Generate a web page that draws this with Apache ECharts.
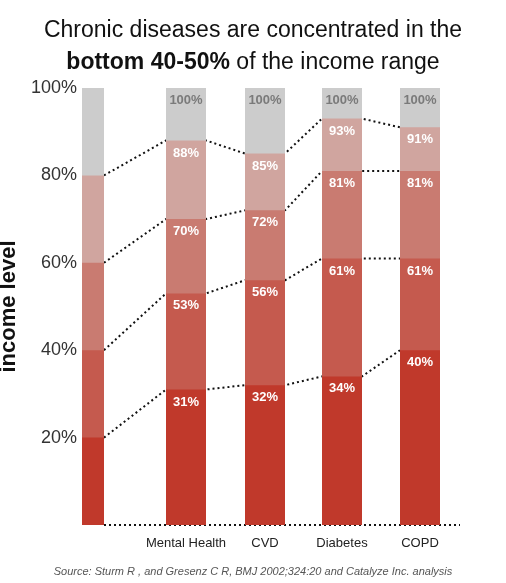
<!DOCTYPE html>
<html>
<head>
<meta charset="utf-8">
<script src="https://cdn.jsdelivr.net/npm/echarts@6/dist/echarts.min.js"></script>
<style>html,body{margin:0;padding:0;background:#fff}#main{width:506px;height:583px}</style>
</head>
<body>
<div id="main"></div>
<script>
// categories and their x positions on the (hidden) value x axis
var categories = ['Mental Health', 'CVD', 'Diabetes', 'COPD'];
var catX = [106, 185, 262, 340];
var refX = 13;
// cumulative income levels per disease
var level1 = [31, 32, 34, 40];
var level2 = [53, 56, 61, 61];
var level3 = [70, 72, 81, 81];
var level4 = [88, 85, 93, 91];
var level5 = [100, 100, 100, 100];
// reference bar: even 20% bands
var refLevels = [20, 40, 60, 80, 100];
var colors = ['#c0392b', '#c55a4e', '#c97b71', '#d0a59f', '#cccccc'];

var levels = [level1, level2, level3, level4, level5];
var half = 20, refHalf = 11;

var series = [];
// disease bars, drawn tallest first so shorter ones overlay
for (var i = 4; i >= 0; i--) {
	var d = [];
	for (var j = 0; j < catX.length; j++) d.push([catX[j], levels[i][j]]);
	series.push({
		type: 'bar', xAxisIndex: 0, barWidth: 40, barGap: '-100%', z: 3,
		itemStyle: {color: colors[i]},
		label: {
			show: true, position: 'insideTop', distance: 6,
			formatter: function (p) { return p.value[1] + '%'; },
			color: i == 4 ? '#7a7a7a' : '#fff', fontWeight: 'bold', fontSize: 13,
			fontFamily: 'Liberation Sans'
		},
		data: d
	});
}
// reference bar on its own axis
for (var i = 4; i >= 0; i--) {
	series.push({
		type: 'bar', xAxisIndex: 1, barWidth: 22, barGap: '-100%', z: 3,
		itemStyle: {color: colors[i]},
		data: [[refX, refLevels[i]]]
	});
}
// dotted connectors
for (var i = 0; i < 4; i++) {
	var pts = [[refX + refHalf, refLevels[i]]];
	for (var j = 0; j < catX.length; j++) {
		pts.push([catX[j] - half, levels[i][j]]);
		if (j < catX.length - 1) pts.push([catX[j] + half, levels[i][j]]);
	}
	series.push({
		type: 'line', xAxisIndex: 0, z: 1, symbol: 'none', silent: true,
		lineStyle: {color: '#111', width: 2, type: [2, 3]},
		data: pts
	});
}
series.push({
	type: 'line', xAxisIndex: 0, z: 1, symbol: 'none', silent: true,
	lineStyle: {color: '#111', width: 2, type: [2, 3]},
	data: [[refX + refHalf, 0], [380, 0]]
});

var myChart = echarts.init(document.getElementById('main'));
var option = {
	animation: false,
	title: [{
		text: 'Chronic diseases are concentrated in the\n{b|bottom 40-50%} of the income range',
		left: 'center', top: 10,
		textStyle: {
			fontSize: 23, fontWeight: 'normal', color: '#111', lineHeight: 32,
			fontFamily: 'Liberation Sans',
			rich: {b: {fontSize: 23, fontWeight: 'bold', color: '#111', fontFamily: 'Liberation Sans'}}
		}
	}, {
		text: 'Source: Sturm R , and Gresenz C R, BMJ 2002;324:20 and Catalyze Inc. analysis',
		left: 'center', top: 561,
		textStyle: {fontSize: 11, fontStyle: 'italic', fontWeight: 'normal', color: '#555', fontFamily: 'Liberation Sans'}
	}],
	grid: {left: 80, right: 36, top: 88, bottom: 58, outerBoundsMode: 'none', containLabel: false},
	xAxis: [{
		type: 'value', min: 0, max: 390,
		splitLine: {show: false}, axisLine: {show: false}, axisTick: {show: false},
		axisLabel: {
			customValues: catX, margin: 12, fontSize: 13, color: '#222', fontFamily: 'Liberation Sans',
			formatter: function (v) { return categories[catX.indexOf(v)] || ''; }
		}
	}, {
		type: 'value', min: 0, max: 390, show: false
	}],
	yAxis: {
		type: 'value', min: 0, max: 100, interval: 20,
		name: 'income level', nameLocation: 'middle', nameGap: 58, nameRotate: 90,
		nameTextStyle: {fontSize: 22, fontWeight: 'bold', color: '#111', fontFamily: 'Liberation Sans'},
		splitLine: {show: false}, axisLine: {show: false}, axisTick: {show: false},
		axisLabel: {
			margin: 3, fontSize: 18, color: '#333', fontFamily: 'Liberation Sans',
			formatter: function (v) { return v == 0 ? '' : v + '%'; }
		}
	},
	series: series
};
myChart.setOption(option);
</script>
</body>
</html>
